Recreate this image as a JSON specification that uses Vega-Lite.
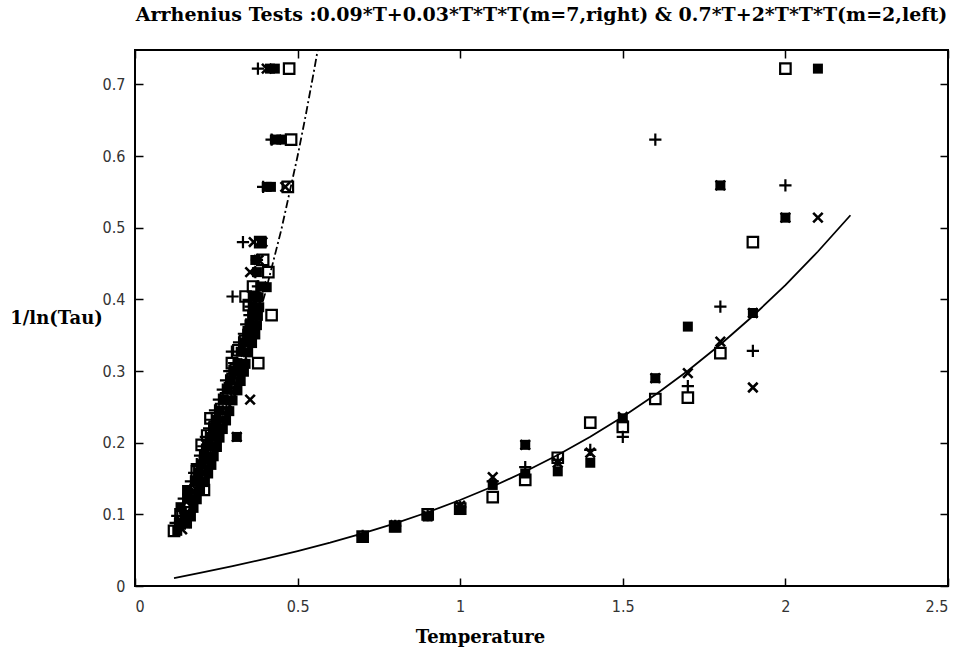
{
  "$schema": "https://vega.github.io/schema/vega-lite/v6.json",
  "width": 813,
  "height": 536,
  "autosize": {"type": "none"},
  "padding": {"left": 135, "top": 50, "right": 18, "bottom": 66},
  "background": "white",
  "title": {
    "text": "Arrhenius Tests :0.09*T+0.03*T*T*T(m=7,right) & 0.7*T+2*T*T*T(m=2,left)",
    "font": "DejaVu Serif",
    "fontSize": 19,
    "fontWeight": "bold",
    "color": "black",
    "anchor": "middle",
    "offset": 24
  },
  "config": {
    "view": {"stroke": "black", "strokeWidth": 2},
    "axis": {
      "grid": false,
      "domain": false,
      "tickColor": "black",
      "tickWidth": 1.5,
      "tickSize": -8,
      "labelFont": "Liberation Sans Narrow, DejaVu Sans Condensed, Liberation Sans",
      "labelFontSize": 16,
      "labelColor": "#333333",
      "titleFont": "DejaVu Serif",
      "titleFontSize": 18,
      "titleFontWeight": "bold",
      "titleColor": "black"
    }
  },
  "datasets": {
    "rc": [
      {"T": 0.12, "y": 0.0109}, {"T": 0.2, "y": 0.0182}, {"T": 0.3, "y": 0.0278}, {"T": 0.4, "y": 0.0379},
      {"T": 0.5, "y": 0.0488}, {"T": 0.6, "y": 0.0605}, {"T": 0.7, "y": 0.0733}, {"T": 0.8, "y": 0.0874},
      {"T": 0.9, "y": 0.1029}, {"T": 1.0, "y": 0.12}, {"T": 1.1, "y": 0.1389}, {"T": 1.2, "y": 0.1598},
      {"T": 1.3, "y": 0.1829}, {"T": 1.4, "y": 0.2083}, {"T": 1.5, "y": 0.2363}, {"T": 1.6, "y": 0.2669},
      {"T": 1.7, "y": 0.3004}, {"T": 1.8, "y": 0.337}, {"T": 1.9, "y": 0.3768}, {"T": 2.0, "y": 0.42},
      {"T": 2.1, "y": 0.4668}, {"T": 2.2, "y": 0.5174}
    ],
    "lc": [
      {"T": 0.12, "y": 0.0875}, {"T": 0.15, "y": 0.1118}, {"T": 0.2, "y": 0.156}, {"T": 0.25, "y": 0.2063},
      {"T": 0.3, "y": 0.264}, {"T": 0.35, "y": 0.3308}, {"T": 0.4, "y": 0.408}, {"T": 0.45, "y": 0.4973},
      {"T": 0.5, "y": 0.6}, {"T": 0.525, "y": 0.6569}, {"T": 0.55, "y": 0.7178}, {"T": 0.562, "y": 0.7484}
    ],
    "pts": [
      {"s": "o", "T": 0.12, "y": 0.077}, {"s": "f", "T": 0.13, "y": 0.077}, {"s": "p", "T": 0.138, "y": 0.08}, {"s": "x", "T": 0.145, "y": 0.079},
      {"s": "p", "T": 0.125, "y": 0.088}, {"s": "f", "T": 0.135, "y": 0.088}, {"s": "o", "T": 0.148, "y": 0.09}, {"s": "x", "T": 0.155, "y": 0.088}, {"s": "f", "T": 0.16, "y": 0.087},
      {"s": "p", "T": 0.13, "y": 0.098}, {"s": "o", "T": 0.14, "y": 0.1}, {"s": "f", "T": 0.152, "y": 0.098}, {"s": "x", "T": 0.162, "y": 0.098}, {"s": "f", "T": 0.172, "y": 0.097},
      {"s": "f", "T": 0.14, "y": 0.11}, {"s": "p", "T": 0.15, "y": 0.11}, {"s": "o", "T": 0.165, "y": 0.112}, {"s": "x", "T": 0.175, "y": 0.11}, {"s": "f", "T": 0.18, "y": 0.109},
      {"s": "p", "T": 0.15, "y": 0.122}, {"s": "f", "T": 0.16, "y": 0.122}, {"s": "x", "T": 0.18, "y": 0.122}, {"s": "o", "T": 0.168, "y": 0.124}, {"s": "f", "T": 0.19, "y": 0.121},
      {"s": "f", "T": 0.16, "y": 0.134}, {"s": "p", "T": 0.17, "y": 0.134}, {"s": "o", "T": 0.212, "y": 0.134}, {"s": "x", "T": 0.19, "y": 0.134}, {"s": "f", "T": 0.2, "y": 0.133},
      {"s": "p", "T": 0.172, "y": 0.146}, {"s": "f", "T": 0.185, "y": 0.146}, {"s": "x", "T": 0.205, "y": 0.146}, {"s": "o", "T": 0.2, "y": 0.148}, {"s": "f", "T": 0.215, "y": 0.145},
      {"s": "p", "T": 0.182, "y": 0.158}, {"s": "f", "T": 0.195, "y": 0.158}, {"s": "x", "T": 0.215, "y": 0.158}, {"s": "o", "T": 0.19, "y": 0.16}, {"s": "f", "T": 0.225, "y": 0.157},
      {"s": "p", "T": 0.19, "y": 0.17}, {"s": "f", "T": 0.205, "y": 0.17}, {"s": "x", "T": 0.225, "y": 0.17}, {"s": "o", "T": 0.215, "y": 0.172}, {"s": "f", "T": 0.235, "y": 0.169},
      {"s": "p", "T": 0.2, "y": 0.182}, {"s": "f", "T": 0.212, "y": 0.182}, {"s": "x", "T": 0.235, "y": 0.182}, {"s": "o", "T": 0.222, "y": 0.19}, {"s": "f", "T": 0.242, "y": 0.181},
      {"s": "p", "T": 0.21, "y": 0.195}, {"s": "f", "T": 0.222, "y": 0.195}, {"s": "x", "T": 0.245, "y": 0.195}, {"s": "o", "T": 0.205, "y": 0.197}, {"s": "f", "T": 0.252, "y": 0.194},
      {"s": "p", "T": 0.218, "y": 0.208}, {"s": "f", "T": 0.232, "y": 0.208}, {"s": "x", "T": 0.25, "y": 0.208}, {"s": "o", "T": 0.222, "y": 0.21}, {"s": "f", "T": 0.26, "y": 0.207}, {"s": "f", "T": 0.313, "y": 0.208}, {"s": "x", "T": 0.313, "y": 0.208},
      {"s": "p", "T": 0.228, "y": 0.22}, {"s": "f", "T": 0.24, "y": 0.22}, {"s": "x", "T": 0.262, "y": 0.22}, {"s": "o", "T": 0.245, "y": 0.222}, {"s": "f", "T": 0.27, "y": 0.219},
      {"s": "p", "T": 0.236, "y": 0.232}, {"s": "f", "T": 0.25, "y": 0.232}, {"s": "x", "T": 0.27, "y": 0.232}, {"s": "o", "T": 0.232, "y": 0.234}, {"s": "f", "T": 0.28, "y": 0.231},
      {"s": "p", "T": 0.246, "y": 0.245}, {"s": "f", "T": 0.26, "y": 0.245}, {"s": "x", "T": 0.282, "y": 0.245}, {"s": "o", "T": 0.265, "y": 0.247}, {"s": "f", "T": 0.29, "y": 0.244},
      {"s": "p", "T": 0.258, "y": 0.26}, {"s": "f", "T": 0.272, "y": 0.26}, {"s": "x", "T": 0.354, "y": 0.26}, {"s": "o", "T": 0.28, "y": 0.262}, {"s": "f", "T": 0.3, "y": 0.259}, {"s": "x", "T": 0.295, "y": 0.26},
      {"s": "p", "T": 0.27, "y": 0.274}, {"s": "f", "T": 0.285, "y": 0.274}, {"s": "o", "T": 0.292, "y": 0.276}, {"s": "x", "T": 0.305, "y": 0.274}, {"s": "f", "T": 0.315, "y": 0.273},
      {"s": "p", "T": 0.28, "y": 0.287}, {"s": "f", "T": 0.295, "y": 0.287}, {"s": "o", "T": 0.3, "y": 0.289}, {"s": "x", "T": 0.318, "y": 0.287}, {"s": "f", "T": 0.325, "y": 0.286},
      {"s": "p", "T": 0.29, "y": 0.3}, {"s": "f", "T": 0.305, "y": 0.3}, {"s": "o", "T": 0.31, "y": 0.302}, {"s": "x", "T": 0.325, "y": 0.3}, {"s": "f", "T": 0.335, "y": 0.299},
      {"s": "o", "T": 0.298, "y": 0.311}, {"s": "o", "T": 0.379, "y": 0.311}, {"s": "f", "T": 0.315, "y": 0.311}, {"s": "x", "T": 0.33, "y": 0.311}, {"s": "f", "T": 0.34, "y": 0.31}, {"s": "p", "T": 0.305, "y": 0.311},
      {"s": "p", "T": 0.298, "y": 0.327}, {"s": "f", "T": 0.325, "y": 0.327}, {"s": "x", "T": 0.34, "y": 0.327}, {"s": "o", "T": 0.318, "y": 0.329}, {"s": "f", "T": 0.348, "y": 0.326},
      {"s": "p", "T": 0.32, "y": 0.34}, {"s": "f", "T": 0.335, "y": 0.34}, {"s": "x", "T": 0.35, "y": 0.34}, {"s": "o", "T": 0.338, "y": 0.342}, {"s": "f", "T": 0.36, "y": 0.339},
      {"s": "p", "T": 0.335, "y": 0.352}, {"s": "f", "T": 0.345, "y": 0.352}, {"s": "x", "T": 0.36, "y": 0.352}, {"s": "o", "T": 0.35, "y": 0.354}, {"s": "f", "T": 0.37, "y": 0.351},
      {"s": "p", "T": 0.342, "y": 0.365}, {"s": "f", "T": 0.352, "y": 0.365}, {"s": "x", "T": 0.362, "y": 0.365}, {"s": "o", "T": 0.37, "y": 0.371}, {"s": "f", "T": 0.375, "y": 0.364},
      {"s": "o", "T": 0.42, "y": 0.378}, {"s": "f", "T": 0.36, "y": 0.378}, {"s": "x", "T": 0.368, "y": 0.378}, {"s": "p", "T": 0.352, "y": 0.378}, {"s": "f", "T": 0.378, "y": 0.377},
      {"s": "f", "T": 0.362, "y": 0.39}, {"s": "x", "T": 0.372, "y": 0.39}, {"s": "p", "T": 0.355, "y": 0.39}, {"s": "o", "T": 0.35, "y": 0.392}, {"s": "f", "T": 0.382, "y": 0.389},
      {"s": "p", "T": 0.3, "y": 0.404}, {"s": "o", "T": 0.34, "y": 0.404}, {"s": "f", "T": 0.362, "y": 0.404}, {"s": "x", "T": 0.372, "y": 0.404}, {"s": "f", "T": 0.38, "y": 0.403},
      {"s": "o", "T": 0.363, "y": 0.418}, {"s": "f", "T": 0.385, "y": 0.418}, {"s": "x", "T": 0.39, "y": 0.418}, {"s": "p", "T": 0.378, "y": 0.418}, {"s": "f", "T": 0.405, "y": 0.417},
      {"s": "x", "T": 0.354, "y": 0.438}, {"s": "o", "T": 0.41, "y": 0.438}, {"s": "f", "T": 0.375, "y": 0.438}, {"s": "p", "T": 0.37, "y": 0.438},
      {"s": "f", "T": 0.37, "y": 0.455}, {"s": "o", "T": 0.394, "y": 0.455}, {"s": "p", "T": 0.375, "y": 0.455}, {"s": "x", "T": 0.38, "y": 0.455},
      {"s": "p", "T": 0.332, "y": 0.48}, {"s": "x", "T": 0.365, "y": 0.48}, {"s": "f", "T": 0.39, "y": 0.48}, {"s": "o", "T": 0.385, "y": 0.48}, {"s": "x", "T": 0.392, "y": 0.48},
      {"s": "p", "T": 0.394, "y": 0.557}, {"s": "x", "T": 0.462, "y": 0.557}, {"s": "f", "T": 0.418, "y": 0.557}, {"s": "o", "T": 0.47, "y": 0.557}, {"s": "f", "T": 0.405, "y": 0.557},
      {"s": "p", "T": 0.42, "y": 0.623}, {"s": "x", "T": 0.435, "y": 0.623}, {"s": "f", "T": 0.45, "y": 0.623}, {"s": "o", "T": 0.48, "y": 0.623}, {"s": "f", "T": 0.43, "y": 0.623},
      {"s": "p", "T": 0.378, "y": 0.722}, {"s": "x", "T": 0.405, "y": 0.722}, {"s": "f", "T": 0.43, "y": 0.722}, {"s": "o", "T": 0.474, "y": 0.722}, {"s": "f", "T": 0.415, "y": 0.722},
      {"s": "p", "T": 0.7, "y": 0.07}, {"s": "x", "T": 0.7, "y": 0.068}, {"s": "o", "T": 0.7, "y": 0.069}, {"s": "f", "T": 0.7, "y": 0.068},
      {"s": "p", "T": 0.8, "y": 0.084}, {"s": "x", "T": 0.8, "y": 0.085}, {"s": "o", "T": 0.8, "y": 0.083}, {"s": "f", "T": 0.8, "y": 0.082},
      {"s": "p", "T": 0.9, "y": 0.099}, {"s": "x", "T": 0.9, "y": 0.098}, {"s": "o", "T": 0.9, "y": 0.1}, {"s": "f", "T": 0.9, "y": 0.097},
      {"s": "p", "T": 1.0, "y": 0.11}, {"s": "x", "T": 1.0, "y": 0.112}, {"s": "o", "T": 1.0, "y": 0.108}, {"s": "f", "T": 1.0, "y": 0.106},
      {"s": "p", "T": 1.1, "y": 0.146}, {"s": "x", "T": 1.1, "y": 0.152}, {"s": "o", "T": 1.1, "y": 0.124}, {"s": "f", "T": 1.1, "y": 0.141},
      {"s": "p", "T": 1.2, "y": 0.166}, {"s": "x", "T": 1.2, "y": 0.197}, {"s": "o", "T": 1.2, "y": 0.148}, {"s": "f", "T": 1.2, "y": 0.157}, {"s": "f", "T": 1.2, "y": 0.197},
      {"s": "p", "T": 1.3, "y": 0.176}, {"s": "x", "T": 1.3, "y": 0.172}, {"s": "o", "T": 1.3, "y": 0.179}, {"s": "f", "T": 1.3, "y": 0.16},
      {"s": "p", "T": 1.4, "y": 0.19}, {"s": "x", "T": 1.4, "y": 0.186}, {"s": "o", "T": 1.4, "y": 0.228}, {"s": "f", "T": 1.4, "y": 0.172},
      {"s": "p", "T": 1.5, "y": 0.208}, {"s": "x", "T": 1.5, "y": 0.236}, {"s": "o", "T": 1.5, "y": 0.222}, {"s": "f", "T": 1.5, "y": 0.234},
      {"s": "p", "T": 1.6, "y": 0.623}, {"s": "x", "T": 1.6, "y": 0.29}, {"s": "o", "T": 1.6, "y": 0.261}, {"s": "f", "T": 1.6, "y": 0.29},
      {"s": "p", "T": 1.7, "y": 0.279}, {"s": "x", "T": 1.7, "y": 0.297}, {"s": "o", "T": 1.7, "y": 0.263}, {"s": "f", "T": 1.7, "y": 0.362},
      {"s": "p", "T": 1.8, "y": 0.39}, {"s": "x", "T": 1.8, "y": 0.341}, {"s": "o", "T": 1.8, "y": 0.325}, {"s": "f", "T": 1.8, "y": 0.559}, {"s": "x", "T": 1.8, "y": 0.559},
      {"s": "p", "T": 1.9, "y": 0.328}, {"s": "x", "T": 1.9, "y": 0.277}, {"s": "o", "T": 1.9, "y": 0.48}, {"s": "f", "T": 1.9, "y": 0.381}, {"s": "x", "T": 1.9, "y": 0.381},
      {"s": "p", "T": 2.0, "y": 0.559}, {"s": "x", "T": 2.0, "y": 0.514}, {"s": "o", "T": 2.0, "y": 0.722}, {"s": "f", "T": 2.0, "y": 0.514},
      {"s": "x", "T": 2.1, "y": 0.514}, {"s": "f", "T": 2.1, "y": 0.722}
    ]
  },
  "resolve": {"axis": {"x": "independent", "y": "independent"}},
  "layer": [
    {
      "data": {"name": "rc"},
      "mark": {"type": "line", "color": "black", "strokeWidth": 1.8, "clip": true},
      "encoding": {
        "x": {"field": "T", "type": "quantitative", "scale": {"domain": [0, 2.5], "nice": false, "zero": false},
          "axis": {"orient": "bottom", "values": [0, 0.5, 1, 1.5, 2, 2.5], "format": "~g", "labelPadding": 20,
            "title": "Temperature", "titleX": 345, "titleY": 51, "titleBaseline": "middle", "titleAnchor": null, "titleAlign": "center"}},
        "y": {"field": "y", "type": "quantitative", "scale": {"domain": [0, 0.748], "nice": false, "zero": false},
          "axis": {"orient": "left", "values": [0, 0.1, 0.2, 0.3, 0.4, 0.5, 0.6, 0.7], "format": "~g", "labelPadding": 18,
            "title": "1/ln(Tau)", "titleAngle": 0, "titleX": -79, "titleY": 268, "titleAlign": "center", "titleBaseline": "middle", "titleAnchor": null}}
      }
    },
    {
      "data": {"name": "lc"},
      "mark": {"type": "line", "color": "black", "strokeWidth": 1.8, "strokeDash": [8, 3, 2, 3], "clip": true},
      "encoding": {
        "x": {"field": "T", "type": "quantitative", "axis": {"orient": "top", "values": [0, 0.5, 1, 1.5, 2, 2.5], "labels": false, "title": null}},
        "y": {"field": "y", "type": "quantitative", "axis": {"orient": "right", "values": [0, 0.1, 0.2, 0.3, 0.4, 0.5, 0.6, 0.7], "labels": false, "title": null}}
      }
    },
    {
      "data": {"name": "pts"},
      "transform": [{"filter": "datum.s === 'o'"}],
      "mark": {"type": "point", "shape": "square", "filled": false, "color": "black", "size": 110, "strokeWidth": 2.2, "opacity": 1},
      "encoding": {
        "x": {"field": "T", "type": "quantitative", "axis": null},
        "y": {"field": "y", "type": "quantitative", "axis": null}
      }
    },
    {
      "data": {"name": "pts"},
      "transform": [{"filter": "datum.s === 'f'"}],
      "mark": {"type": "point", "shape": "square", "filled": true, "color": "black", "size": 100, "opacity": 1},
      "encoding": {
        "x": {"field": "T", "type": "quantitative", "axis": null},
        "y": {"field": "y", "type": "quantitative", "axis": null}
      }
    },
    {
      "data": {"name": "pts"},
      "transform": [{"filter": "datum.s === 'p'"}],
      "mark": {"type": "point", "shape": "M-1,0H1M0,-1V1", "filled": false, "color": "black", "size": 150, "strokeWidth": 2.2, "opacity": 1},
      "encoding": {
        "x": {"field": "T", "type": "quantitative", "axis": null},
        "y": {"field": "y", "type": "quantitative", "axis": null}
      }
    },
    {
      "data": {"name": "pts"},
      "transform": [{"filter": "datum.s === 'x'"}],
      "mark": {"type": "point", "shape": "M-1,-1L1,1M-1,1L1,-1", "filled": false, "color": "black", "size": 90, "strokeWidth": 2.6, "opacity": 1},
      "encoding": {
        "x": {"field": "T", "type": "quantitative", "axis": null},
        "y": {"field": "y", "type": "quantitative", "axis": null}
      }
    }
  ]
}
